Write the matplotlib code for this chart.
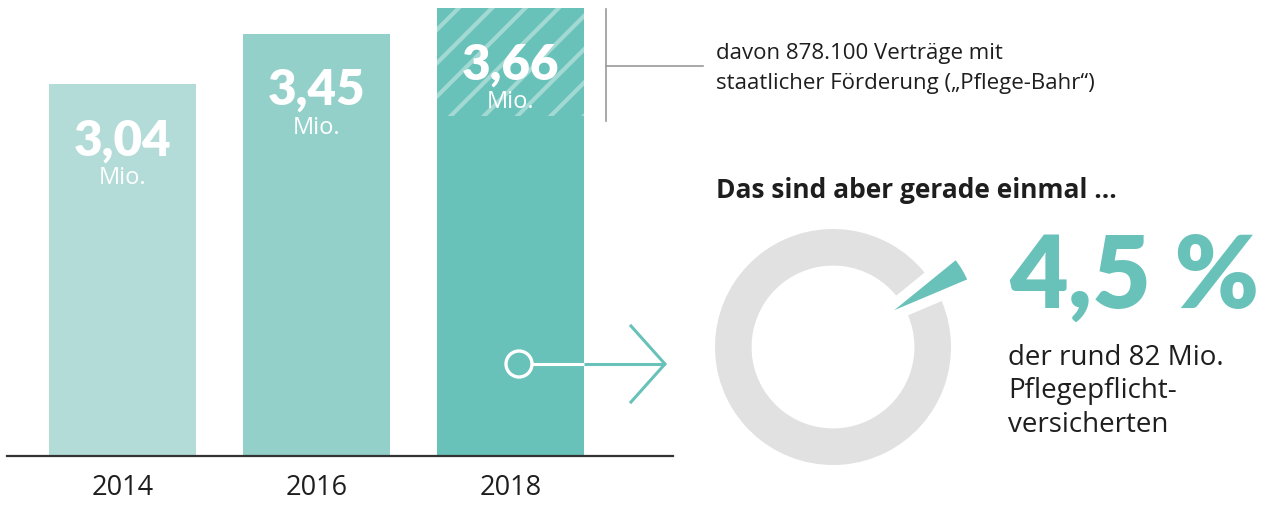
import matplotlib
matplotlib.use("Agg")
import matplotlib.pyplot as plt
from matplotlib.patches import Circle
import numpy as np

# data
years = ["2014", "2016", "2018"]
contracts = [3.04, 3.45, 3.66]          # Mio. Verträge
labels = ["3,04", "3,45", "3,66"]
bahr_2018 = 0.878                        # davon mit staatlicher Förderung
share = 4.5                              # % der Pflegepflichtversicherten

bar_colors = ["#b3dcd9", "#93d0ca", "#68c2b9"]
teal = "#68c2b9"
stripe = "#a2d9d3"
grey = "#e1e1e1"
ink = "#1e1e1e"

plt.rcParams['font.family'] = ['Open Sans', 'DejaVu Sans']
plt.rcParams['hatch.linewidth'] = 3.0
num_font = ['Lato', 'DejaVu Sans']

W, H = 1271, 506
fig = plt.figure(figsize=(W / 100, H / 100), dpi=100)

# ---------- bars ----------
px = 122.3  # pixels per million
ax = fig.add_axes([7 / W, (H - 457) / H, 666 / W, 457 / H])
x = np.arange(len(years))
heights = list(contracts)
bottom_2018 = contracts[2] - bahr_2018
heights[2] = bottom_2018
ax.bar(x, heights, width=0.758, color=bar_colors, linewidth=0)
ax.bar(x[2], bahr_2018, bottom=bottom_2018, width=0.758, color=teal,
       edgecolor=stripe, hatch='/', linewidth=0)
ax.set_xlim(-0.595, -0.595 + 666 / 194)
ax.set_ylim(0, 457 / px)
ax.axhline(0, color="#333333", lw=1.6, clip_on=False)
for s in ax.spines.values():
    s.set_visible(False)
ax.set_yticks([])
ax.set_xticks(x)
ax.set_xticklabels(years, fontsize=19.5, color=ink)
ax.tick_params(axis='x', length=0, pad=12)

for xi, v, lab in zip(x, contracts, labels):
    ax.annotate(lab, (xi, v), xytext=(0, -40), textcoords='offset points',
                ha='center', va='center', color='white', fontsize=35.5,
                fontweight='heavy', family=num_font)
    ax.annotate("Mio.", (xi, v), xytext=(0, -67), textcoords='offset points',
                ha='center', va='center', color='white', fontsize=17)

# ---------- donut ----------
cx, cy, r = 833, 348, 118
side = 320
dax = fig.add_axes([(cx - side / 2) / W, (H - cy - side / 2) / H, side / W, side / H])
mid = 31
start = mid - share / 100 * 360 / 2
wedges, _ = dax.pie([share, 100 - share], colors=[teal, grey], startangle=start,
                    counterclock=True, radius=1,
                    wedgeprops=dict(width=0.31, linewidth=0))
tw = wedges[0]
ang = np.deg2rad(mid)
tw.set_center((0.5 * np.cos(ang), 0.5 * np.sin(ang)))
tw.set_radius(0.79)
tw.set_width(0.7)
tw.set_edgecolor('white')
tw.set_linewidth(2.5)
tw.set_zorder(5)
lim = side / 2 / r
dax.set_xlim(-lim, lim)
dax.set_ylim(-lim, lim)
dax.set_aspect('equal')
dax.axis('off')

# ---------- overlay (pixel coords) ----------
ov = fig.add_axes([0, 0, 1, 1], zorder=10)
ov.set_xlim(0, W)
ov.set_ylim(H, 0)
ov.axis('off')
ov.patch.set_alpha(0)

# bracket for 2018 hatched part
ov.plot([606, 606], [10, 122], color="#9a9a9a", lw=1.2)
ov.plot([606, 703], [67, 67], color="#9a9a9a", lw=1.2)
ov.text(716, 53, "davon 878.100 Verträge mit", fontsize=16, color=ink,
        va='center', ha='left')
ov.text(716, 83, "staatlicher Förderung („Pflege-Bahr“)", fontsize=16,
        color=ink, va='center', ha='left')

ov.text(716, 190, "Das sind aber gerade einmal …", fontsize=19, color=ink,
        fontweight='bold', va='center', ha='left')

ov.text(1009, 279, "4,5 %", fontsize=73, color=teal, fontweight='heavy',
        va='center', ha='left', family=num_font)
for i, line in enumerate(["der rund 82 Mio.", "Pflegepflicht-", "versicherten"]):
    ov.text(1008, 358 + i * 33.5, line, fontsize=20, color=ink,
            va='center', ha='left')

# arrow from bar to donut
ov.add_patch(Circle((519, 365), 13, facecolor=teal, edgecolor='white', lw=2.4))
ov.plot([532, 584], [365, 365], color='white', lw=2.2, solid_capstyle='butt')
ov.plot([584, 665], [365, 365], color=teal, lw=2.2, solid_capstyle='butt')
ov.plot([631, 665, 631], [327, 365, 403], color=teal, lw=2.2,
        solid_joinstyle='miter')

fig.savefig("out.png", dpi=100, facecolor='white')
